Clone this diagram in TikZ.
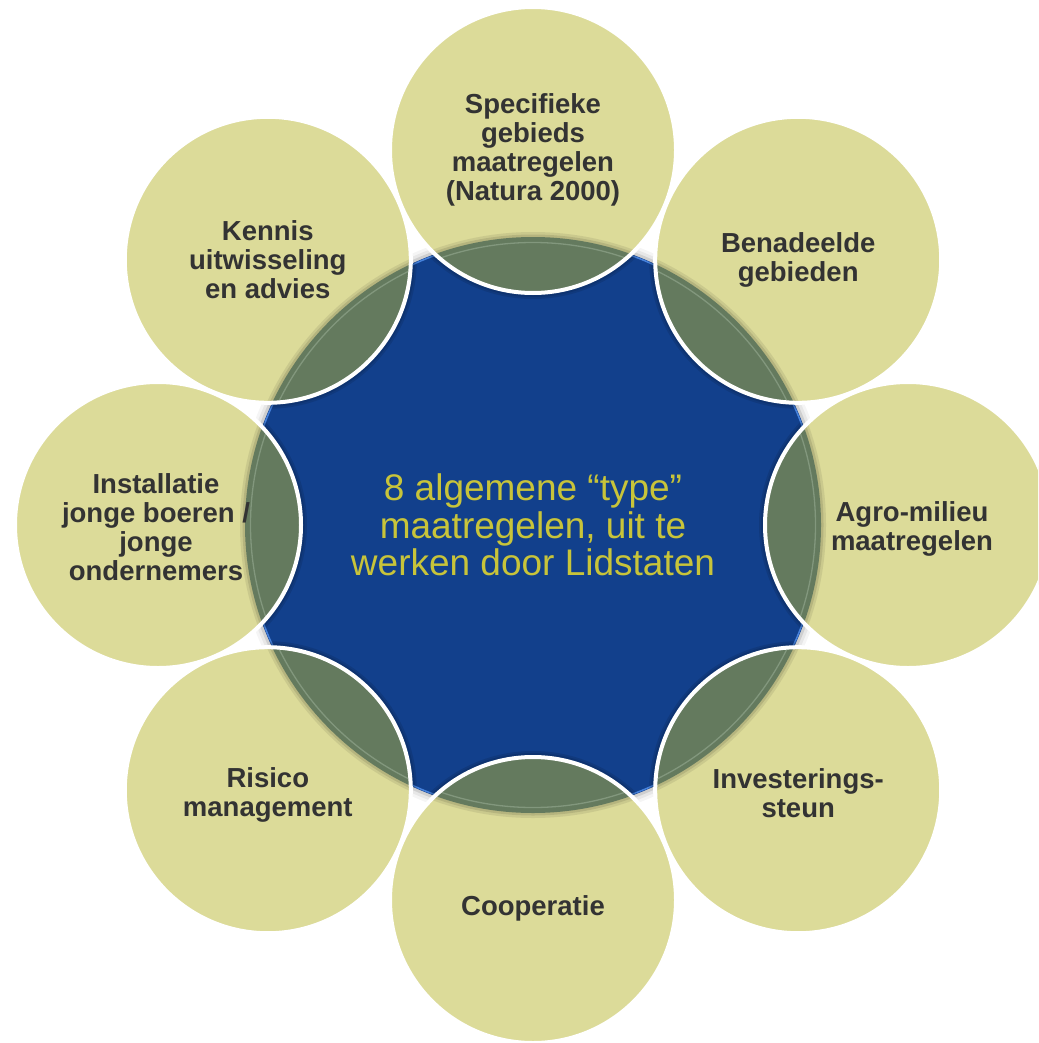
\documentclass[tikz,border=0pt]{standalone}
\usepackage{fontspec}
\setmainfont{Liberation Sans}
\definecolor{khaki}{RGB}{220,219,153}
\definecolor{rimgreen}{RGB}{100,122,94}
\definecolor{rimlight}{RGB}{130,151,125}
\definecolor{cblue}{RGB}{18,64,140}
\definecolor{hiblue}{RGB}{70,130,220}
\definecolor{labelgray}{RGB}{51,51,51}
\definecolor{ctext}{RGB}{200,196,58}
\begin{document}
\begin{tikzpicture}[x=1pt,y=-1pt,
  discborder/.style={circle, minimum size=286pt, inner sep=0pt, draw=white, line width=4pt},
  disclabel/.style={text=labelgray, align=center, inner sep=0pt, font=\bfseries\fontsize{27.5}{29}\selectfont},
  centertext/.style={text=ctext, align=center, font=\fontsize{37}{37.3}\selectfont}]
\useasboundingbox (0,0) rectangle (1038,1043);
\clip (0,0) rectangle (1038,1043);
\coordinate (C) at (533,525);
\coordinate (p1) at (533,150);
\coordinate (p2) at (798.2,259.8);
\coordinate (p3) at (908,525);
\coordinate (p4) at (798.2,790.2);
\coordinate (p5) at (533,900);
\coordinate (p6) at (267.8,790.2);
\coordinate (p7) at (158,525);
\coordinate (p8) at (267.8,259.8);
% soft shadow of the central disc
\foreach \r/\o in {297/0.04, 294/0.06, 291/0.1} \fill[black,opacity=\o] (C) circle[radius=\r pt];
% central blue disc
\fill[cblue] (C) circle[radius=288pt];
\draw[hiblue, line width=1.5pt] (C) circle[radius=286.8pt];
% shadows of the outer discs on the blue disc
\begin{scope}
  \clip (C) circle[radius=288pt];
  \foreach \i in {1,...,8} {
    \fill[black,opacity=0.10] (p\i) circle[radius=149pt];
    \fill[black,opacity=0.10] (p\i) circle[radius=147pt];
  }
\end{scope}
% outer discs fill and overlap with the central disc
\foreach \i in {1,...,8} {
  \fill[khaki] (p\i) circle[radius=143pt];
  \begin{scope}
    \clip (p\i) circle[radius=143pt];
    \fill[black,opacity=0.08] (C) circle[radius=293pt];
    \fill[black,opacity=0.10] (C) circle[radius=290.5pt];
    \fill[rimgreen] (C) circle[radius=288pt];
    \draw[rimlight, line width=1.3pt] (C) circle[radius=282.5pt];
  \end{scope}
}
% borders
\foreach \i in {1,...,8} \node[discborder] (d\i) at (p\i) {};
% labels
\node[disclabel] (t1) at (d1) {Specifieke\\gebieds\\maatregelen\\(Natura 2000)};
\node[disclabel] (t2) at (d2) {Benadeelde\\gebieden};
\node[disclabel, xshift=4pt, yshift=-4pt] (t3) at (d3) {Agro-milieu\\maatregelen};
\node[disclabel, yshift=-3pt] (t4) at (d4) {Investerings-\\steun};
\node[disclabel, yshift=-8pt] (t5) at (d5) {Cooperatie};
\node[disclabel, yshift=-5pt] (t6) at (d6) {Risico\\management};
\node[disclabel, xshift=-2pt, yshift=-2pt] (t7) at (d7) {Installatie\\jonge boeren /\\jonge\\ondernemers};
\node[disclabel] (t8) at (d8) {Kennis\\uitwisseling\\en advies};
\node[centertext] (mid) at (C) {8 algemene “type”\\maatregelen, uit te\\werken door Lidstaten};
\end{tikzpicture}
\end{document}
